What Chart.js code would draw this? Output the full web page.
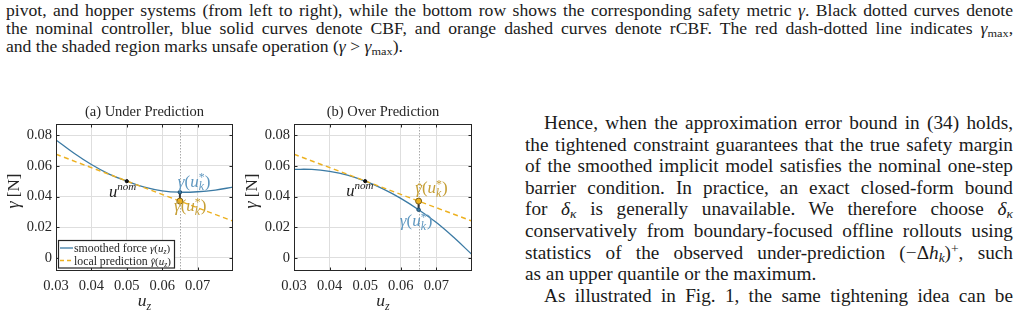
<!DOCTYPE html>
<html>
<head>
<meta charset="utf-8">
<script src="https://cdn.jsdelivr.net/npm/chart.js@4.4.0/dist/chart.umd.min.js"></script>
<style>
  html, body { margin: 0; padding: 0; background: #fff; }
  body { width: 1020px; height: 326px; position: relative; overflow: hidden;
         font-family: "Liberation Serif", "Times New Roman", serif; color: #1a1a1a; }
  .cap { position: absolute; left: 6px; width: 915.5px; top: 2.4px; font-size: 16px; line-height: 17.8px;
         transform: scaleX(1.1); transform-origin: 0 0; }
  .cap div { height: 17.8px; }
  .col { position: absolute; left: 525px; width: 469.2px; top: 113px; font-size: 18.5px; line-height: 21.6px;
         transform: scaleX(1.04); transform-origin: 0 0; }
  .col div { height: 21.6px; }
  .j { text-align: justify; text-align-last: justify; }
  .ind { padding-left: 18.3px; }
  sub, sup { font-size: 70%; line-height: 0; }
  sub { vertical-align: -0.25em; }
  sup { vertical-align: 0.45em; }
  canvas { position: absolute; top: 95px; }
</style>
</head>
<body>
<div class="cap">
  <div class="j">pivot, and hopper systems (from left to right), while the bottom row shows the corresponding safety metric <i>γ</i>. Black dotted curves denote</div>
  <div class="j">the nominal controller, blue solid curves denote CBF, and orange dashed curves denote rCBF. The red dash-dotted line indicates <i>γ</i><sub>max</sub>,</div>
  <div>and the shaded region marks unsafe operation (<i>γ</i> &gt; <i>γ</i><sub>max</sub>).</div>
</div>

<canvas id="underChart" width="240" height="231" style="left:0px"></canvas>
<canvas id="overChart" width="240" height="231" style="left:238px"></canvas>

<div class="col">
  <div class="j ind">Hence, when the approximation error bound in (34) holds,</div>
  <div class="j">the tightened constraint guarantees that the true safety margin</div>
  <div class="j">of the smoothed implicit model satisfies the nominal one-step</div>
  <div class="j">barrier condition. In practice, an exact closed-form bound</div>
  <div class="j">for <i>δ</i><sub><i>κ</i></sub> is generally unavailable. We therefore choose <i>δ</i><sub><i>κ</i></sub></div>
  <div class="j">conservatively from boundary-focused offline rollouts using</div>
  <div class="j">statistics of the observed under-prediction (−Δ<i>h</i><sub><i>k</i></sub>)<sup>+</sup>, such</div>
  <div>as an upper quantile or the maximum.</div>
  <div class="j ind">As illustrated in Fig. 1, the same tightening idea can be</div>
</div>

<script>
const uGrid = [0.03, 0.035, 0.04, 0.045, 0.05, 0.055, 0.06, 0.065, 0.07, 0.075, 0.08];
const gammaUnder = [0.0768, 0.0683, 0.0608, 0.0546, 0.0500, 0.0461, 0.0437, 0.0428, 0.0431, 0.0442, 0.0461];
const gammaOver = [0.0577, 0.0576, 0.0563, 0.0539, 0.0500, 0.0450, 0.0388, 0.0314, 0.0230, 0.0131, 0.0022];

// local (linear) prediction, same in both panels
const predU = [0.03, 0.08];
const predGamma = [0.0675, 0.0240];

const uNom = 0.05, gammaNom = 0.05;
const uStar = 0.065, predStar = 0.037;
const trueStarUnder = 0.0428, trueStarOver = 0.0314;

const xTicks = [0.03, 0.04, 0.05, 0.06, 0.07];
const xTickLabels = ['0.03', '0.04', '0.05', '0.06', '0.07'];
const yTicks = [0, 0.02, 0.04, 0.06, 0.08];
const yTickLabels = ['0', '0.02', '0.04', '0.06', '0.08'];

const SERIF = '"Liberation Serif", "Times New Roman", serif';
const BLUE = '#3b7aa4', BLUE_TXT = '#6098c0';
const GOLD = '#edb120', GOLD_TXT = '#c69f36';
const INK = '#262626';

Chart.defaults.font.family = SERIF;
Chart.defaults.color = INK;

function font(p) {
  return (p.it ? 'italic ' : '') + p.size + 'px ' + SERIF;
}

// draws a row of text pieces (sub/superscripts via dy, stacked via stack)
function drawRich(ctx, parts, x, y, align, color) {
  let w = 0, lastX = 0;
  const pos = [];
  parts.forEach(p => {
    ctx.font = font(p);
    const tw = ctx.measureText(p.t).width;
    if (p.stack) {
      pos.push(lastX + (p.dx || 0));
      w = Math.max(w, lastX + tw);
    } else {
      pos.push(w + (p.dx || 0));
      lastX = w;
      w += tw;
    }
  });
  const x0 = align === 'center' ? x - w / 2 : align === 'right' ? x - w : x;
  ctx.fillStyle = color;
  ctx.textAlign = 'left';
  ctx.textBaseline = 'alphabetic';
  parts.forEach((p, i) => {
    ctx.font = font(p);
    ctx.fillText(p.t, x0 + pos[i], y + (p.dy || 0));
  });
}

function gammaOf(hat, arg, sub, star, s) {
  const small = Math.round(s * 7) / 10;
  const p = [{ t: 'γ', it: true, size: s }];
  if (hat) p.push({ t: 'ˆ', size: s, stack: true, dx: s * 0.08, dy: s * 0.1 });
  p.push({ t: '(', size: s }, { t: arg, it: true, size: s }, { t: sub, it: true, size: small, dy: s * 0.22 });
  if (star) p.push({ t: '*', size: small, stack: true, dy: -s * 0.3 });
  p.push({ t: ')', size: s });
  return p;
}

function uNomParts() {
  return [{ t: 'u', it: true, size: 16.5 }, { t: 'nom', it: true, size: 11, dy: -6.5 }];
}

function makeChart(id, opt) {
  const curvePts = uGrid.map((u, i) => ({ x: u, y: opt.curve[i] }));
  const predPts = predU.map((u, i) => ({ x: u, y: predGamma[i] }));

  const figure = {
    id: 'paperFigure',
    beforeDatasetsDraw(chart) {
      const ctx = chart.ctx, a = chart.chartArea;
      const x = Math.round(chart.scales.x.getPixelForValue(uStar)) + 0.5;
      ctx.save();
      ctx.strokeStyle = '#a9a9a9';
      ctx.lineWidth = 1;
      ctx.setLineDash([1.5, 1.5]);
      ctx.beginPath();
      ctx.moveTo(x, a.top);
      ctx.lineTo(x, a.bottom);
      ctx.stroke();
      ctx.restore();
    },
    afterDraw(chart) {
      const ctx = chart.ctx, a = chart.chartArea;
      const xs = chart.scales.x, ys = chart.scales.y;
      ctx.save();

      // frame + inward ticks
      ctx.strokeStyle = INK;
      ctx.lineWidth = 1;
      const L = Math.round(a.left) + 0.5, R = Math.round(a.right) - 0.5;
      const T = Math.round(a.top) + 0.5, B = Math.round(a.bottom) - 0.5;
      ctx.strokeRect(L, T, R - L, B - T);
      ctx.beginPath();
      xTicks.forEach(v => {
        const px = Math.round(xs.getPixelForValue(v)) + 0.5;
        ctx.moveTo(px, B); ctx.lineTo(px, B - 3);
        ctx.moveTo(px, T); ctx.lineTo(px, T + 3);
      });
      yTicks.forEach(v => {
        const py = Math.round(ys.getPixelForValue(v)) + 0.5;
        ctx.moveTo(L, py); ctx.lineTo(L + 3, py);
        ctx.moveTo(R, py); ctx.lineTo(R - 3, py);
      });
      ctx.stroke();

      // title and axis titles
      const mid = (a.left + a.right) / 2;
      drawRich(ctx, [{ t: opt.title, size: 14.5 }], mid, a.top - 8, 'center', INK);
      drawRich(ctx, [{ t: 'u', it: true, size: 17.5 }, { t: 'z', it: true, size: 12, dy: 3.5 }], mid, a.bottom + 35, 'center', INK);
      ctx.save();
      ctx.translate(19, 96);
      ctx.rotate(-Math.PI / 2);
      drawRich(ctx, [{ t: 'γ', it: true, size: 18 }, { t: ' [N]', size: 17 }], 0, 0, 'center', INK);
      ctx.restore();

      // annotations
      opt.notes.forEach(n => {
        drawRich(ctx, n.parts, xs.getPixelForValue(n.x), ys.getPixelForValue(n.y), 'center', n.color);
      });

      // legend box
      if (opt.legend) {
        const lx = a.left + 2.5, ly = a.bottom - 30.5, lw = 116, lh = 27.5;
        ctx.fillStyle = '#fff';
        ctx.fillRect(lx, ly, lw, lh);
        ctx.strokeStyle = INK;
        ctx.lineWidth = 1.2;
        ctx.strokeRect(lx, ly, lw, lh);
        const y1 = ly + 7.5, y2 = ly + 20;
        ctx.lineWidth = 1.3;
        ctx.strokeStyle = BLUE;
        ctx.beginPath(); ctx.moveTo(lx + 1.5, y1); ctx.lineTo(lx + 14.5, y1); ctx.stroke();
        ctx.strokeStyle = GOLD;
        ctx.setLineDash([4, 3]);
        ctx.beginPath(); ctx.moveTo(lx + 1.5, y2); ctx.lineTo(lx + 14.5, y2); ctx.stroke();
        ctx.setLineDash([]);
        drawRich(ctx, [{ t: 'smoothed force ', size: 11.8 }].concat(gammaOf(false, 'u', 'z', false, 11)), lx + 15.5, y1 + 4, 'left', INK);
        drawRich(ctx, [{ t: 'local prediction ', size: 11.8 }].concat(gammaOf(true, 'u', 'z', false, 11)), lx + 15.5, y2 + 4, 'left', INK);
      }
      ctx.restore();
    }
  };

  return new Chart(document.getElementById(id), {
    type: 'line',
    data: {
      datasets: [
        { data: [{ x: uStar, y: predStar }], showLine: false, pointRadius: 3, pointBackgroundColor: GOLD, pointBorderColor: '#7d6013', pointBorderWidth: 1 },
        { data: [{ x: uStar, y: opt.trueStar }], showLine: false, pointRadius: 1.8, pointBackgroundColor: BLUE, pointBorderColor: '#1f4a68', pointBorderWidth: 1 },
        { data: [{ x: uStar, y: predStar }, { x: uStar, y: opt.trueStar }], borderColor: '#3a3a3a', borderWidth: 2, pointRadius: 0 },
        { data: [{ x: uNom, y: gammaNom }], showLine: false, pointRadius: 1.6, pointBackgroundColor: '#111', pointBorderColor: '#111' },
        { data: predPts, borderColor: GOLD, borderWidth: 1.4, borderDash: [5, 3.5], pointRadius: 0 },
        { data: curvePts, borderColor: BLUE, borderWidth: 1.3, pointRadius: 0, tension: 0.4 }
      ]
    },
    options: {
      responsive: false,
      animation: false,
      events: [],
      layout: { padding: { top: 29, right: opt.padRight, left: 0, bottom: 0 } },
      plugins: { legend: { display: false }, tooltip: { enabled: false } },
      scales: {
        x: {
          type: 'linear', min: 0.03, max: 0.08,
          afterBuildTicks: s => { s.ticks = xTicks.map(v => ({ value: v })); },
          afterFit: s => { s.height = 55; },
          border: { display: false },
          grid: { color: '#dedede', drawTicks: false },
          ticks: { padding: 6.5, color: INK, font: { family: SERIF, size: 14.5 }, maxRotation: 0, autoSkip: false, callback: (v, i) => xTickLabels[i] }
        },
        y: {
          type: 'linear', min: -0.0085, max: 0.0872,
          afterBuildTicks: s => { s.ticks = yTicks.map(v => ({ value: v })); },
          afterFit: s => { s.width = 56; },
          border: { display: false },
          grid: { color: '#dedede', drawTicks: false },
          ticks: { padding: 4, color: INK, font: { family: SERIF, size: 14.5 }, autoSkip: false, callback: (v, i) => yTickLabels[i] }
        }
      }
    },
    plugins: [figure]
  });
}

makeChart('underChart', {
  title: '(a) Under Prediction',
  curve: gammaUnder,
  trueStar: trueStarUnder,
  padRight: 7,
  legend: true,
  notes: [
    { parts: uNomParts(), x: 0.0488, y: 0.0400, color: '#1a1a1a' },
    { parts: gammaOf(false, 'u', 'k', true, 17), x: 0.0690, y: 0.0465, color: BLUE_TXT },
    { parts: gammaOf(true, 'u', 'k', true, 17), x: 0.0679, y: 0.0303, color: GOLD_TXT }
  ]
});

makeChart('overChart', {
  title: '(b) Over Prediction',
  curve: gammaOver,
  trueStar: trueStarOver,
  padRight: 6,
  legend: false,
  notes: [
    { parts: uNomParts(), x: 0.0485, y: 0.0405, color: '#1a1a1a' },
    { parts: gammaOf(true, 'u', 'k', true, 17), x: 0.0686, y: 0.0422, color: GOLD_TXT },
    { parts: gammaOf(false, 'u', 'k', true, 17), x: 0.0643, y: 0.0206, color: BLUE_TXT }
  ]
});
</script>
</body>
</html>
